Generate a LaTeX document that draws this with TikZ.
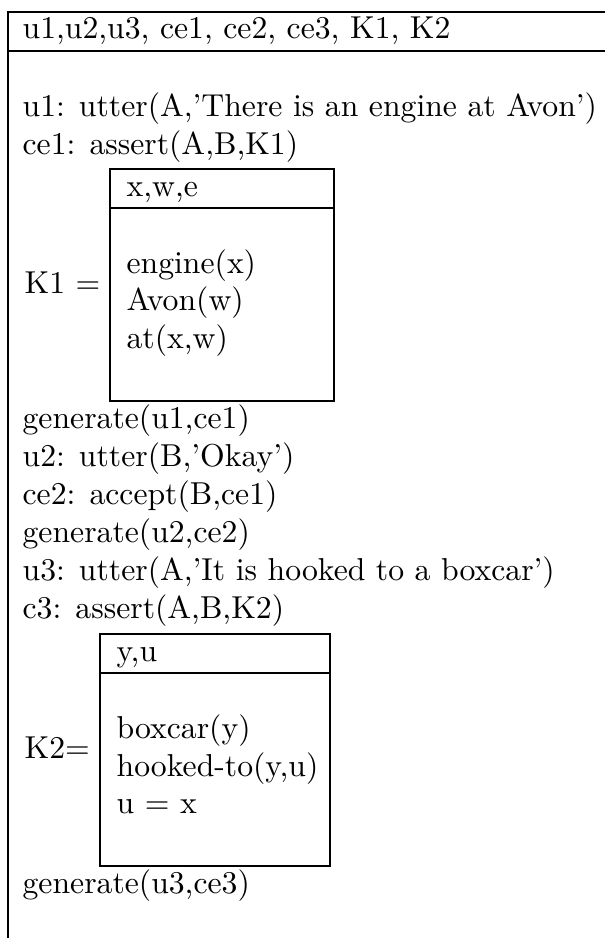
\documentclass[tikz,border=0pt]{standalone}
\usetikzlibrary{positioning}

\begin{document}
\begin{tikzpicture}[x=0.3155pt,y=-0.3155pt,font=\fontsize{10}{12}\selectfont]
   \tikzstyle{every node}=[inner sep=0pt, anchor=base west]
   \tikzstyle{drsline}=[line width=0.55pt]

\useasboundingbox (0,0) rectangle (605,938);

% main box
\draw[drsline] (605,12) -- (8,12) -- (8,938);
\draw[drsline] (8,51) -- (605,51);
\node (univ) at (22,38) {u1,u2,u3, ce1, ce2, ce3, K1, K2};

\node (u1)  at (22,116) {u1: utter(A,'There is an engine at Avon')};
\node (ce1) at (22,154) {ce1: assert(A,B,K1)};

% K1
\draw[drsline] (110,169) rectangle (334,401);
\draw[drsline] (110,208) -- (334,208);
\node (k1lab)  at (24,293) {K1 =};
\node (k1univ) at (126,196) {x,w,e};
\node (k1c1)   at (126,273) {engine(x)};
\node (k1c2)   at (126,310) {Avon(w)};
\node (k1c3)   at (126,348) {at(x,w)};

\node (gen1) at (22,428) {generate(u1,ce1)};
\node (u2)   at (22,466) {u2: utter(B,'Okay')};
\node (ce2)  at (22,504) {ce2: accept(B,ce1)};
\node (gen2) at (22,542) {generate(u2,ce2)};
\node (u3)   at (22,580) {u3: utter(A,'It is hooked to a boxcar')};
\node (c3)   at (22,618) {c3: assert(A,B,K2)};

% K2
\draw[drsline] (100,634) rectangle (330,866);
\draw[drsline] (100,673) -- (330,673);
\node (k2lab)  at (24,758) {K2=};
\node (k2univ) at (116,661) {y,u};
\node (k2c1)   at (116,738) {boxcar(y)};
\node (k2c2)   at (116,776) {hooked-to(y,u)};
\node (k2c3)   at (116,813) {u = x};

\node (gen3) at (22,893) {generate(u3,ce3)};

\end{tikzpicture}
\end{document}
